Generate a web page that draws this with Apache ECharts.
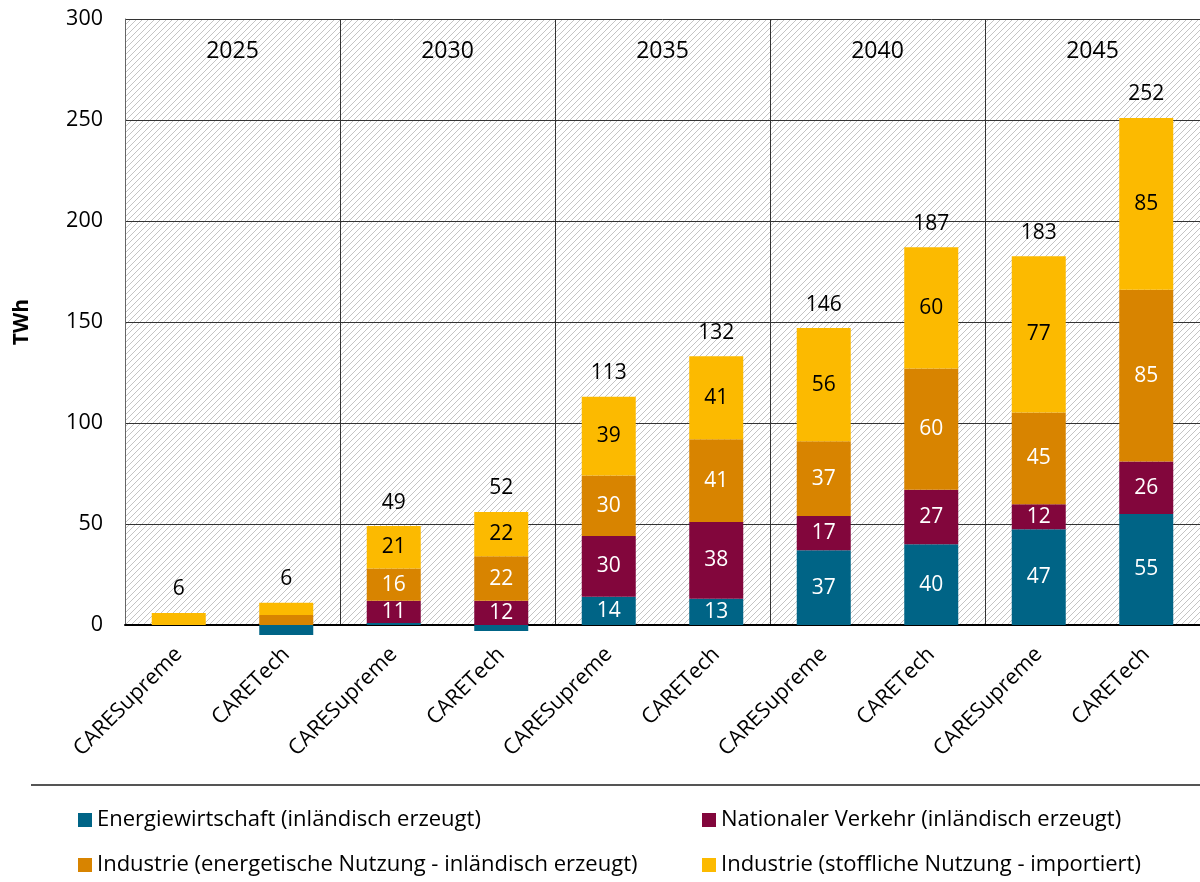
<!DOCTYPE html>
<html>
<head>
<meta charset="utf-8">
<script src="https://cdn.jsdelivr.net/npm/echarts@6/dist/echarts.min.js"></script>
<style>html,body{margin:0;padding:0;background:#fff}#c{width:1200px;height:882px}</style>
</head>
<body>
<div id="c"></div>
<script>
// ---- data ----
const years = ['2025', '2030', '2035', '2040', '2045'];
const scenarios = ['CARESupreme', 'CARETech', 'CARESupreme', 'CARETech', 'CARESupreme', 'CARETech', 'CARESupreme', 'CARETech', 'CARESupreme', 'CARETech'];
const seriesNames = [
  'Energiewirtschaft (inländisch erzeugt)',
  'Nationaler Verkehr (inländisch erzeugt)',
  'Industrie (energetische Nutzung - inländisch erzeugt)',
  'Industrie (stoffliche Nutzung - importiert)'
];
const energie   = [0, -5, 1, -3, 14, 13, 37, 40, 47.4, 55];
const verkehr   = [0, 0, 11, 12, 30, 38, 17, 27, 12.4, 26];
const industrieE = [0, 5, 16, 22, 30, 41, 37, 60, 45.4, 85];
const industrieS = [6, 6, 21, 22, 39, 41, 56, 60, 77.4, 85];
const totals = [6, 6, 49, 52, 113, 132, 146, 187, 183, 252];
const yTicks = { min: 0, max: 300, interval: 50 };

const colors = ['#006486', '#82063c', '#d88400', '#fcba00'];
const labelColors = ['#ffffff', '#ffffff', '#ffffff', '#000000'];
const FONT = '"Open Sans", sans-serif';

// hatch pattern
function hatch() {
  const s = 6, c = document.createElement('canvas');
  c.width = s; c.height = s;
  const g = c.getContext('2d');
  g.fillStyle = '#ffffff'; g.fillRect(0, 0, s, s);
  g.strokeStyle = '#c4c4c4'; g.lineWidth = 1;
  g.beginPath();
  g.moveTo(-1, s + 1); g.lineTo(s + 1, -1);
  g.moveTo(-1, 1); g.lineTo(1, -1);
  g.moveTo(s - 1, s + 1); g.lineTo(s + 1, s - 1);
  g.stroke();
  return { image: c, repeat: 'repeat' };
}

const catKeys = scenarios.map((s, i) => i + '|' + s);
const stackData = [energie, verkehr, industrieE, industrieS];
const posSum = catKeys.map((_, i) => stackData.reduce((a, arr) => a + Math.max(arr[i], 0), 0));

const barSeries = stackData.map((arr, k) => ({
  name: seriesNames[k],
  type: 'bar',
  stack: 'a',
  barWidth: 54,
  clip: false,
  itemStyle: { color: colors[k] },
  data: arr.map(v => ({
    value: v,
    label: { show: Math.abs(v) >= 8 }
  })),
  label: {
    position: 'inside',
    color: labelColors[k],
    fontFamily: FONT,
    fontSize: 21,
    formatter: p => Math.round(p.value)
  },
  z: 3
}));

const chart = echarts.init(document.getElementById('c'), null, { renderer: 'canvas' });
chart.setOption({
  animation: false,
  grid: {
    left: 125, right: 0, top: 19, bottom: 257,
    show: true, backgroundColor: hatch(), borderWidth: 0
  },
  legend: [
    {
      data: [seriesNames[0], seriesNames[2]],
      orient: 'vertical', left: 73, top: 804, itemGap: 23,
      itemWidth: 14, itemHeight: 14, icon: 'rect',
      textStyle: { fontFamily: FONT, fontSize: 22, color: '#000' }
    },
    {
      data: [seriesNames[1], seriesNames[3]],
      orient: 'vertical', left: 697, top: 804, itemGap: 23,
      itemWidth: 14, itemHeight: 14, icon: 'rect',
      textStyle: { fontFamily: FONT, fontSize: 22, color: '#000' }
    }
  ],
  xAxis: [
    {
      type: 'category', data: catKeys, position: 'bottom',
      axisLine: { show: true, lineStyle: { color: '#000', width: 2 } },
      axisTick: { show: false },
      axisLabel: {
        interval: 0, rotate: 45, margin: 26,
        fontFamily: FONT, fontSize: 21.5, color: '#000',
        formatter: v => v.split('|')[1]
      },
      splitLine: { show: false }
    },
    {
      type: 'category', data: years, position: 'top',
      axisLine: { show: false }, axisTick: { show: false },
      axisLabel: { inside: true, margin: 21, fontFamily: FONT, fontSize: 23, color: '#000' },
      splitLine: { show: true, interval: 0, lineStyle: { color: '#333', width: 1 } }
    }
  ],
  yAxis: {
    type: 'value', min: yTicks.min, max: yTicks.max, interval: yTicks.interval,
    name: 'TWh', nameLocation: 'middle', nameRotate: 90, nameGap: 92,
    nameTextStyle: { fontFamily: FONT, fontSize: 21, fontWeight: 'bold', color: '#000' },
    axisLine: { show: true, lineStyle: { color: '#666', width: 1 } },
    axisTick: { show: false },
    axisLabel: { margin: 22, fontFamily: FONT, fontSize: 21.5, color: '#000' },
    splitLine: { show: true, lineStyle: { color: '#333', width: 1 } }
  },
  series: barSeries.concat([{
    name: 'total',
    type: 'scatter',
    symbolSize: 0,
    itemStyle: { opacity: 1 },
    data: posSum,
    label: {
      show: true, position: 'top', distance: 13, opacity: 1,
      fontFamily: FONT, fontSize: 21, color: '#000',
      formatter: p => totals[p.dataIndex]
    },
    z: 4
  }]),
  graphic: [{
    type: 'line',
    shape: { x1: 31, y1: 785, x2: 1200, y2: 785 },
    style: { stroke: '#555', lineWidth: 2 }
  }]
});
</script>
</body>
</html>
